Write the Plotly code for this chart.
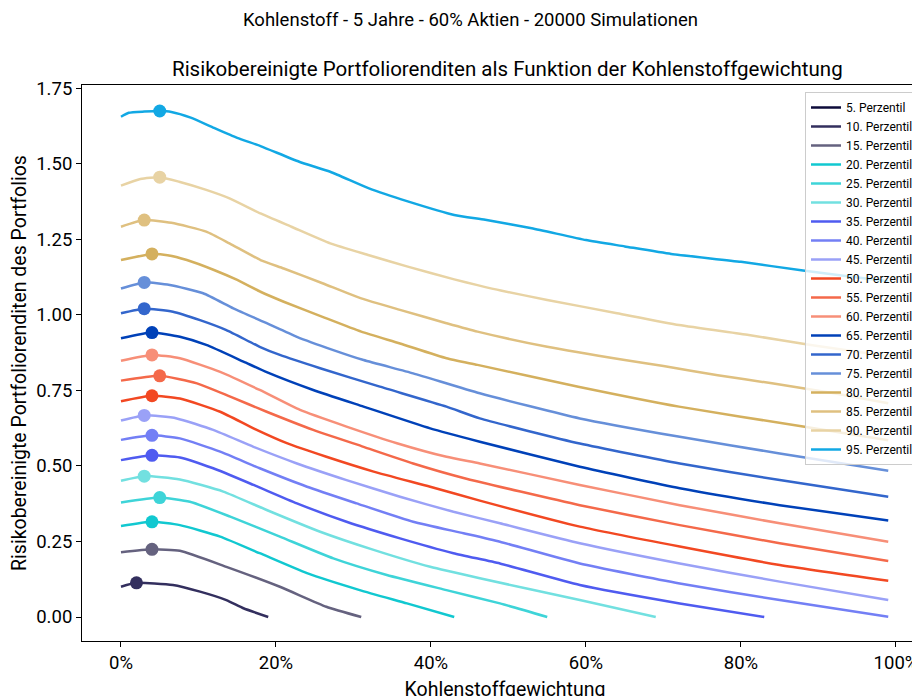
import plotly.graph_objects as go

labels = [f"{p}. Perzentil" for p in [5, 10, 15, 20, 25, 30, 35, 40, 45, 50, 55, 60, 65, 70, 75, 80, 85, 90, 95]]
colors = ["#0d0b3a", "#332f5e", "#65627f", "#11c8d0", "#3ed4d8", "#72e0e0",
          "#4f5bf0", "#737ff5", "#9aa1f7", "#f24822", "#f4694a", "#f78f78",
          "#0041b8", "#3366cc", "#668fd9", "#d4b05e", "#dfc080", "#e8d3a4", "#12a8e4"]

x_p05 = [None]
y_p05 = [None]
x_p10 = [0, 0.02, 0.067, 0.102, 0.136, 0.158, 0.19]
y_p10 = [0.100, 0.113, 0.106, 0.084, 0.056, 0.029, 0.0]
x_p15 = [0, 0.04, 0.076, 0.136, 0.205, 0.265, 0.31]
y_p15 = [0.214, 0.224, 0.219, 0.166, 0.100, 0.034, 0.0]
x_p20 = [0, 0.04, 0.076, 0.128, 0.179, 0.24, 0.308, 0.369, 0.43]
y_p20 = [0.301, 0.315, 0.304, 0.266, 0.211, 0.145, 0.089, 0.045, 0.0]
x_p25 = [0, 0.05, 0.089, 0.141, 0.205, 0.274, 0.343, 0.42, 0.489, 0.55]
y_p25 = [0.379, 0.395, 0.381, 0.332, 0.266, 0.194, 0.139, 0.089, 0.045, 0.0]
x_p30 = [0, 0.03, 0.076, 0.132, 0.188, 0.257, 0.326, 0.399, 0.463, 0.592, 0.69]
y_p30 = [0.451, 0.466, 0.455, 0.415, 0.354, 0.282, 0.222, 0.166, 0.128, 0.056, 0.0]
x_p35 = [0, 0.04, 0.076, 0.119, 0.171, 0.227, 0.291, 0.36, 0.429, 0.489, 0.592, 0.721, 0.83]
y_p35 = [0.519, 0.535, 0.528, 0.492, 0.437, 0.376, 0.315, 0.260, 0.211, 0.177, 0.106, 0.045, 0.0]
x_p40 = [0, 0.04, 0.076, 0.128, 0.179, 0.24, 0.304, 0.377, 0.442, 0.489, 0.592, 0.721, 0.85, 0.99]
y_p40 = [0.586, 0.601, 0.591, 0.547, 0.492, 0.431, 0.376, 0.315, 0.277, 0.249, 0.177, 0.111, 0.056, 0.001]
x_p45 = [0, 0.03, 0.072, 0.119, 0.171, 0.227, 0.291, 0.36, 0.429, 0.489, 0.592, 0.721, 0.85, 0.99]
y_p45 = [0.650, 0.667, 0.657, 0.619, 0.563, 0.508, 0.453, 0.398, 0.348, 0.310, 0.244, 0.177, 0.117, 0.056]
x_p50 = [0, 0.04, 0.076, 0.128, 0.171, 0.214, 0.265, 0.326, 0.399, 0.463, 0.592, 0.721, 0.85, 0.99]
y_p50 = [0.714, 0.732, 0.723, 0.679, 0.624, 0.575, 0.530, 0.481, 0.431, 0.385, 0.299, 0.233, 0.172, 0.120]
x_p55 = [0, 0.05, 0.098, 0.141, 0.188, 0.248, 0.313, 0.377, 0.442, 0.592, 0.721, 0.85, 0.99]
y_p55 = [0.782, 0.798, 0.773, 0.729, 0.679, 0.619, 0.563, 0.508, 0.460, 0.370, 0.304, 0.244, 0.185]
x_p60 = [0, 0.04, 0.076, 0.128, 0.179, 0.231, 0.291, 0.356, 0.42, 0.463, 0.592, 0.721, 0.85, 0.99]
y_p60 = [0.848, 0.867, 0.856, 0.811, 0.751, 0.685, 0.630, 0.575, 0.530, 0.508, 0.437, 0.370, 0.310, 0.249]
x_p65 = [0, 0.04, 0.076, 0.11, 0.158, 0.188, 0.248, 0.313, 0.399, 0.463, 0.592, 0.721, 0.85, 0.99]
y_p65 = [0.922, 0.941, 0.927, 0.900, 0.845, 0.810, 0.751, 0.696, 0.624, 0.580, 0.497, 0.426, 0.370, 0.319]
x_p70 = [0, 0.03, 0.067, 0.102, 0.136, 0.179, 0.205, 0.257, 0.334, 0.42, 0.463, 0.592, 0.721, 0.85, 0.99]
y_p70 = [1.005, 1.020, 1.010, 0.982, 0.949, 0.894, 0.867, 0.823, 0.762, 0.696, 0.657, 0.574, 0.508, 0.453, 0.398]
x_p75 = [0, 0.03, 0.063, 0.106, 0.145, 0.188, 0.227, 0.274, 0.313, 0.377, 0.463, 0.592, 0.721, 0.85, 0.99]
y_p75 = [1.087, 1.107, 1.098, 1.071, 1.021, 0.972, 0.927, 0.883, 0.850, 0.806, 0.740, 0.657, 0.596, 0.541, 0.484]
x_p80 = [0, 0.04, 0.06, 0.085, 0.12, 0.15, 0.18, 0.21, 0.26, 0.31, 0.36, 0.42, 0.46, 0.59, 0.72, 0.88, 0.99]
y_p80 = [1.181, 1.201, 1.197, 1.181, 1.148, 1.115, 1.076, 1.043, 0.993, 0.944, 0.905, 0.856, 0.834, 0.762, 0.696, 0.630, 0.585]
x_p85 = [0, 0.03, 0.065, 0.11, 0.14, 0.18, 0.21, 0.26, 0.31, 0.36, 0.42, 0.46, 0.55, 0.65, 0.70, 0.77, 0.84, 0.92, 0.99]
y_p85 = [1.291, 1.313, 1.304, 1.275, 1.236, 1.181, 1.153, 1.104, 1.054, 1.016, 0.972, 0.944, 0.894, 0.850, 0.830, 0.800, 0.773, 0.740, 0.707]
x_p90 = [0, 0.025, 0.05, 0.075, 0.11, 0.14, 0.18, 0.22, 0.27, 0.32, 0.37, 0.43, 0.46, 0.49, 0.55, 0.64, 0.72, 0.81, 0.89, 0.99]
y_p90 = [1.427, 1.449, 1.455, 1.440, 1.413, 1.385, 1.335, 1.291, 1.236, 1.197, 1.159, 1.117, 1.098, 1.080, 1.049, 1.005, 0.966, 0.933, 0.900, 0.863]
x_p95 = [0, 0.01, 0.03, 0.05, 0.065, 0.09, 0.12, 0.15, 0.18, 0.23, 0.27, 0.32, 0.37, 0.43, 0.47, 0.53, 0.60, 0.65, 0.71, 0.80, 0.88, 0.93, 0.99]
y_p95 = [1.655, 1.668, 1.672, 1.674, 1.671, 1.652, 1.618, 1.585, 1.558, 1.506, 1.473, 1.418, 1.375, 1.330, 1.314, 1.286, 1.247, 1.226, 1.201, 1.175, 1.146, 1.130, 1.111]

xs = [x_p05, x_p10, x_p15, x_p20, x_p25, x_p30, x_p35, x_p40, x_p45, x_p50,
      x_p55, x_p60, x_p65, x_p70, x_p75, x_p80, x_p85, x_p90, x_p95]
ys = [y_p05, y_p10, y_p15, y_p20, y_p25, y_p30, y_p35, y_p40, y_p45, y_p50,
      y_p55, y_p60, y_p65, y_p70, y_p75, y_p80, y_p85, y_p90, y_p95]

FONT = "Roboto"
fig = go.Figure()
for lab, col, x, y in zip(labels, colors, xs, ys):
    fig.add_trace(go.Scatter(x=x, y=y, mode="lines", name=lab,
                             line=dict(color=col, width=2.5, shape="spline", smoothing=0.5)))
for lab, col, x, y in zip(labels, colors, xs, ys):
    vals = [v for v in y if v is not None]
    if vals:
        i = max(range(len(y)), key=lambda k: y[k])
        fig.add_trace(go.Scatter(x=[x[i]], y=[y[i]], mode="markers", showlegend=False,
                                 marker=dict(color=col, size=13)))

# page body has an 8px offset; plot area on screen: x 82..928, y 85..641
PL, PR, PT, PB = 82, 928, 85, 641
def px(sx):
    return (sx - PL) / (PR - PL)
def py(sy):
    return (PB - sy) / (PB - PT)

fig.update_layout(
    width=920, height=696,
    margin=dict(l=PL - 8, r=0, t=PT - 8, b=696 - (PB - 8)),
    paper_bgcolor="white", plot_bgcolor="white",
    font=dict(family=FONT, color="black", size=17),
    showlegend=True,
    legend=dict(x=px(805), y=py(92), xanchor="left", yanchor="top",
                bgcolor="rgba(255,255,255,0.8)", bordercolor="#cccccc", borderwidth=1,
                font=dict(size=12, family=FONT), itemwidth=30, tracegroupgap=0),
)
fig.add_annotation(text="Kohlenstoff - 5 Jahre - 60% Aktien - 20000 Simulationen",
                   x=px(470), y=py(20), xref="paper", yref="paper",
                   showarrow=False, font=dict(size=18.5), xanchor="center", yanchor="middle")
fig.add_annotation(text="Risikobereinigte Portfoliorenditen als Funktion der Kohlenstoffgewichtung",
                   x=px(507), y=py(69), xref="paper", yref="paper",
                   showarrow=False, font=dict(size=20.5), xanchor="center", yanchor="middle")

fig.update_xaxes(range=[-0.0503, 1.0413], tickvals=[0, 0.2, 0.4, 0.6, 0.8, 1.0], tickformat=".0%",
                 showgrid=False, zeroline=False, showline=True, linecolor="black", linewidth=1,
                 mirror=True, ticks="outside", ticklen=5, tickcolor="black", automargin=False,
                 title=dict(text="Kohlenstoffgewichtung", font=dict(size=19.5), standoff=9),
                 tickfont=dict(size=18.5))
fig.update_yaxes(range=[-0.0794, 1.760], tickvals=[0, 0.25, 0.5, 0.75, 1.0, 1.25, 1.5, 1.75],
                 tickformat=".2f", showgrid=False, zeroline=False, showline=True, automargin=False,
                 linecolor="black", linewidth=1, ticks="outside", ticklen=5, tickcolor="black",
                 title=dict(text="Risikobereinigte Portfoliorenditen des Portfolios", font=dict(size=19.5),
                            standoff=11),
                 tickfont=dict(size=18.5))

fig.write_html("out.html")
